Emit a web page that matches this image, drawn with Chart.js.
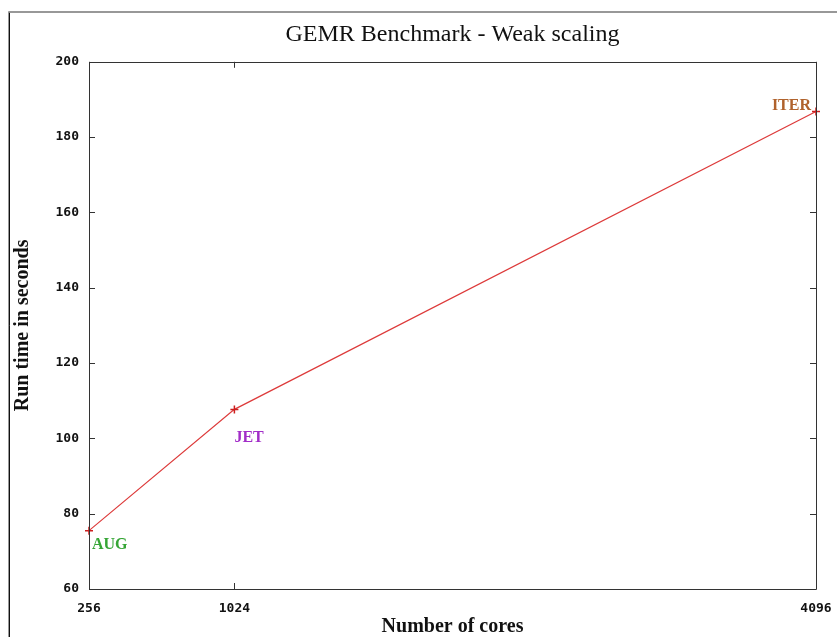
<!DOCTYPE html>
<html>
<head>
<meta charset="utf-8">
<script src="https://cdn.jsdelivr.net/npm/chart.js@4/dist/chart.umd.min.js"></script>
<style>
  html, body { margin: 0; padding: 0; background: #fff; }
  #wrap { width: 837px; height: 637px; }
</style>
</head>
<body>
<div id="wrap"><canvas id="c" width="837" height="637"></canvas></div>
<script>
// Weak-scaling benchmark: run time per machine size
const cores = [256, 1024, 4096];
const runTime = [75.5, 107.7, 186.8];
const machines = ['AUG', 'JET', 'ITER'];
const machineColors = ['#35a535', '#a22dc8', '#b0622c'];
const xTicks = [256, 1024, 4096];
const yTicks = [60, 80, 100, 120, 140, 160, 180, 200];

const tickFont = { family: 'DejaVu Sans Mono', weight: 'bold', size: 13 };
const serif = 'Liberation Serif';

// Outer frame, inward tick marks on all four sides, and machine labels
const decorations = {
  id: 'decorations',
  beforeDraw(chart) {
    const ctx = chart.ctx;
    ctx.save();
    ctx.fillStyle = '#fff';
    ctx.fillRect(0, 0, chart.width, chart.height);
    ctx.strokeStyle = '#777';
    ctx.lineWidth = 1.5;
    ctx.beginPath();
    ctx.moveTo(9, chart.height + 5);
    ctx.lineTo(9, 12);
    ctx.lineTo(chart.width + 5, 12);
    ctx.stroke();
    ctx.strokeStyle = '#111';
    ctx.lineWidth = 1;
    ctx.beginPath();
    ctx.moveTo(9.5, chart.height + 5);
    ctx.lineTo(9.5, 13);
    ctx.stroke();
    ctx.restore();
  },
  afterDatasetsDraw(chart) {
    const ctx = chart.ctx;
    const a = chart.chartArea;
    const xs = chart.scales.x, ys = chart.scales.y;
    const len = 6;
    ctx.save();
    ctx.strokeStyle = '#333';
    ctx.lineWidth = 1;
    ctx.beginPath();
    ctx.rect(Math.round(a.left) + 0.5, Math.round(a.top) + 0.5,
             Math.round(a.right - a.left), Math.round(a.bottom - a.top));
    ctx.stroke();
    ctx.beginPath();
    yTicks.forEach(v => {
      const py = Math.round(ys.getPixelForValue(v)) + 0.5;
      ctx.moveTo(a.left, py); ctx.lineTo(a.left + len, py);
      ctx.moveTo(a.right, py); ctx.lineTo(a.right - len, py);
    });
    xTicks.forEach(v => {
      const px = Math.round(xs.getPixelForValue(v)) + 0.5;
      ctx.moveTo(px, a.bottom); ctx.lineTo(px, a.bottom - len);
      ctx.moveTo(px, a.top); ctx.lineTo(px, a.top + len);
    });
    ctx.stroke();

    // machine name next to each measurement
    ctx.font = 'bold 16px "' + serif + '"';
    ctx.textBaseline = 'middle';
    const offsets = [[3, 14, 'left'], [0, 28, 'left'], [-5, -6, 'right']];
    machines.forEach((name, i) => {
      const px = xs.getPixelForValue(cores[i]);
      const py = ys.getPixelForValue(runTime[i]);
      ctx.fillStyle = machineColors[i];
      ctx.textAlign = offsets[i][2];
      ctx.fillText(name, px + offsets[i][0], py + offsets[i][1]);
    });
    ctx.restore();
  }
};

new Chart(document.getElementById('c'), {
  type: 'line',
  data: {
    datasets: [{
      data: cores.map((c, i) => ({ x: c, y: runTime[i] })),
      borderColor: '#dd3a3a',
      borderWidth: 1.2,
      pointStyle: 'cross',
      pointRadius: 4,
      pointBorderColor: '#cc1f1f',
      pointBorderWidth: 1.5,
      tension: 0,
      fill: false,
      clip: false
    }]
  },
  options: {
    responsive: false,
    animation: false,
    events: [],
    layout: { padding: { left: 0, right: 21, top: 0, bottom: 0 } },
    plugins: {
      legend: { display: false },
      tooltip: { enabled: false },
      title: {
        display: true,
        fullSize: false,
        text: 'GEMR Benchmark - Weak scaling',
        color: '#111',
        font: { family: serif, size: 24, weight: 'normal', lineHeight: 1.2 },
        padding: { top: 20, bottom: 13 }
      }
    },
    scales: {
      x: {
        type: 'linear',
        min: 256,
        max: 4096,
        afterBuildTicks(scale) { scale.ticks = xTicks.map(v => ({ value: v })); },
        afterFit(scale) {
          scale.height = 48;
          scale.paddingLeft = 0;
          scale.paddingRight = 0;
        },
        grid: { display: false, drawTicks: false },
        border: { display: false },
        ticks: {
          color: '#111',
          font: tickFont,
          padding: 12,
          maxRotation: 0,
          autoSkip: false,
          callback: v => String(v)
        },
        title: {
          display: true,
          text: 'Number of cores',
          color: '#111',
          font: { family: serif, size: 20, weight: 'bold', lineHeight: 1 },
          padding: { top: 0, bottom: 0 }
        }
      },
      y: {
        min: 60,
        max: 200,
        afterBuildTicks(scale) { scale.ticks = yTicks.map(v => ({ value: v })); },
        afterFit(scale) { scale.width = 89; },
        grid: { display: false, drawTicks: false },
        border: { display: false },
        ticks: {
          color: '#111',
          font: tickFont,
          padding: 10,
          autoSkip: false,
          callback: v => String(v)
        },
        title: {
          display: true,
          text: 'Run time in seconds',
          color: '#111',
          font: { family: serif, size: 20, weight: 'bold', lineHeight: 1 },
          padding: { top: 13, bottom: 0 }
        }
      }
    }
  },
  plugins: [decorations]
});
</script>
</body>
</html>
